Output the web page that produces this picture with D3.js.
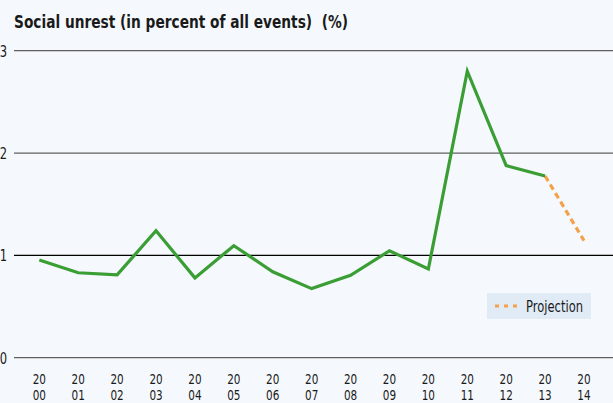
<!DOCTYPE html>
<html><head><meta charset="utf-8">
<script src="https://cdn.jsdelivr.net/npm/d3@7"></script>
<style>
html,body{margin:0;padding:0;background:#f5f9fd;}
svg{display:block;}
text{font-family:"DejaVu Sans",sans-serif;fill:#1a1a1a;}
</style></head>
<body><svg id="c" width="613" height="403"></svg>
<script>
const years = ["2000","2001","2002","2003","2004","2005","2006","2007","2008","2009","2010","2011","2012","2013","2014"];
const actual = [0.955,0.83,0.81,1.24,0.78,1.095,0.84,0.675,0.805,1.045,0.867,2.80,1.877,1.776,null];
const projection = [null,null,null,null,null,null,null,null,null,null,null,null,null,1.776,1.144];
const yTicks = [0,1,2,3];
const title = "Social unrest (in percent of all events)  (%)";
const legendLabel = "Projection";

const svg = d3.select("#c");
const x = d3.scalePoint().domain(years).range([39.3,584]);
const y = d3.scaleLinear().domain([0,3]).range([357.7,50.7]);
const SX = 0.72;

svg.append("text").attr("x",14).attr("y",28).attr("font-size",18).attr("font-weight","bold")
  .attr("textLength",334).attr("lengthAdjust","spacingAndGlyphs")
  .style("white-space","pre").text(title);

const grid = svg.append("g");
grid.selectAll("line").data(yTicks).join("line")
  .attr("x1",14).attr("x2",613).attr("y1",d=>y(d)).attr("y2",d=>y(d))
  .attr("stroke",d=>d===1?"#000":"#5f5f5f").attr("stroke-width",1.3);
grid.selectAll("text").data(yTicks).join("text")
  .attr("transform",d=>`translate(7,${y(d)+6}) scale(0.7,1)`)
  .attr("text-anchor","end").attr("font-size",16.5).text(d=>d);

const xg = svg.append("g");
xg.selectAll("text.t").data(years).join("text").attr("class","t")
  .attr("text-anchor","middle").attr("font-size",14.5)
  .attr("transform",d=>`translate(${x(d)},384) scale(${SX},1)`).text(d=>d.slice(0,2));
xg.selectAll("text.b").data(years).join("text").attr("class","b")
  .attr("text-anchor","middle").attr("font-size",14.5)
  .attr("transform",d=>`translate(${x(d)},399.5) scale(${SX},1)`).text(d=>d.slice(2));

const line = d3.line().defined(d=>d.v!=null).x(d=>x(d.k)).y(d=>y(d.v));
svg.append("path").datum(years.map((k,i)=>({k,v:projection[i]})))
  .attr("d",line).attr("fill","none").attr("stroke","#f5a04a").attr("stroke-width",3.2)
  .attr("stroke-dasharray","6,4");
svg.append("path").datum(years.map((k,i)=>({k,v:actual[i]})))
  .attr("d",line).attr("fill","none").attr("stroke","#3a9e35").attr("stroke-width",3.2)
  .attr("stroke-linejoin","miter");

const lg = svg.append("g");
lg.append("rect").attr("x",487).attr("y",293).attr("width",104).attr("height",26).attr("fill","#e0ebf6");
lg.append("line").attr("x1",495).attr("x2",518).attr("y1",306).attr("y2",306)
  .attr("stroke","#f5a04a").attr("stroke-width",3).attr("stroke-dasharray","4,5");
lg.append("text").attr("x",526).attr("y",311.5).attr("font-size",15)
  .attr("textLength",57).attr("lengthAdjust","spacingAndGlyphs").text(legendLabel);
</script></body></html>
